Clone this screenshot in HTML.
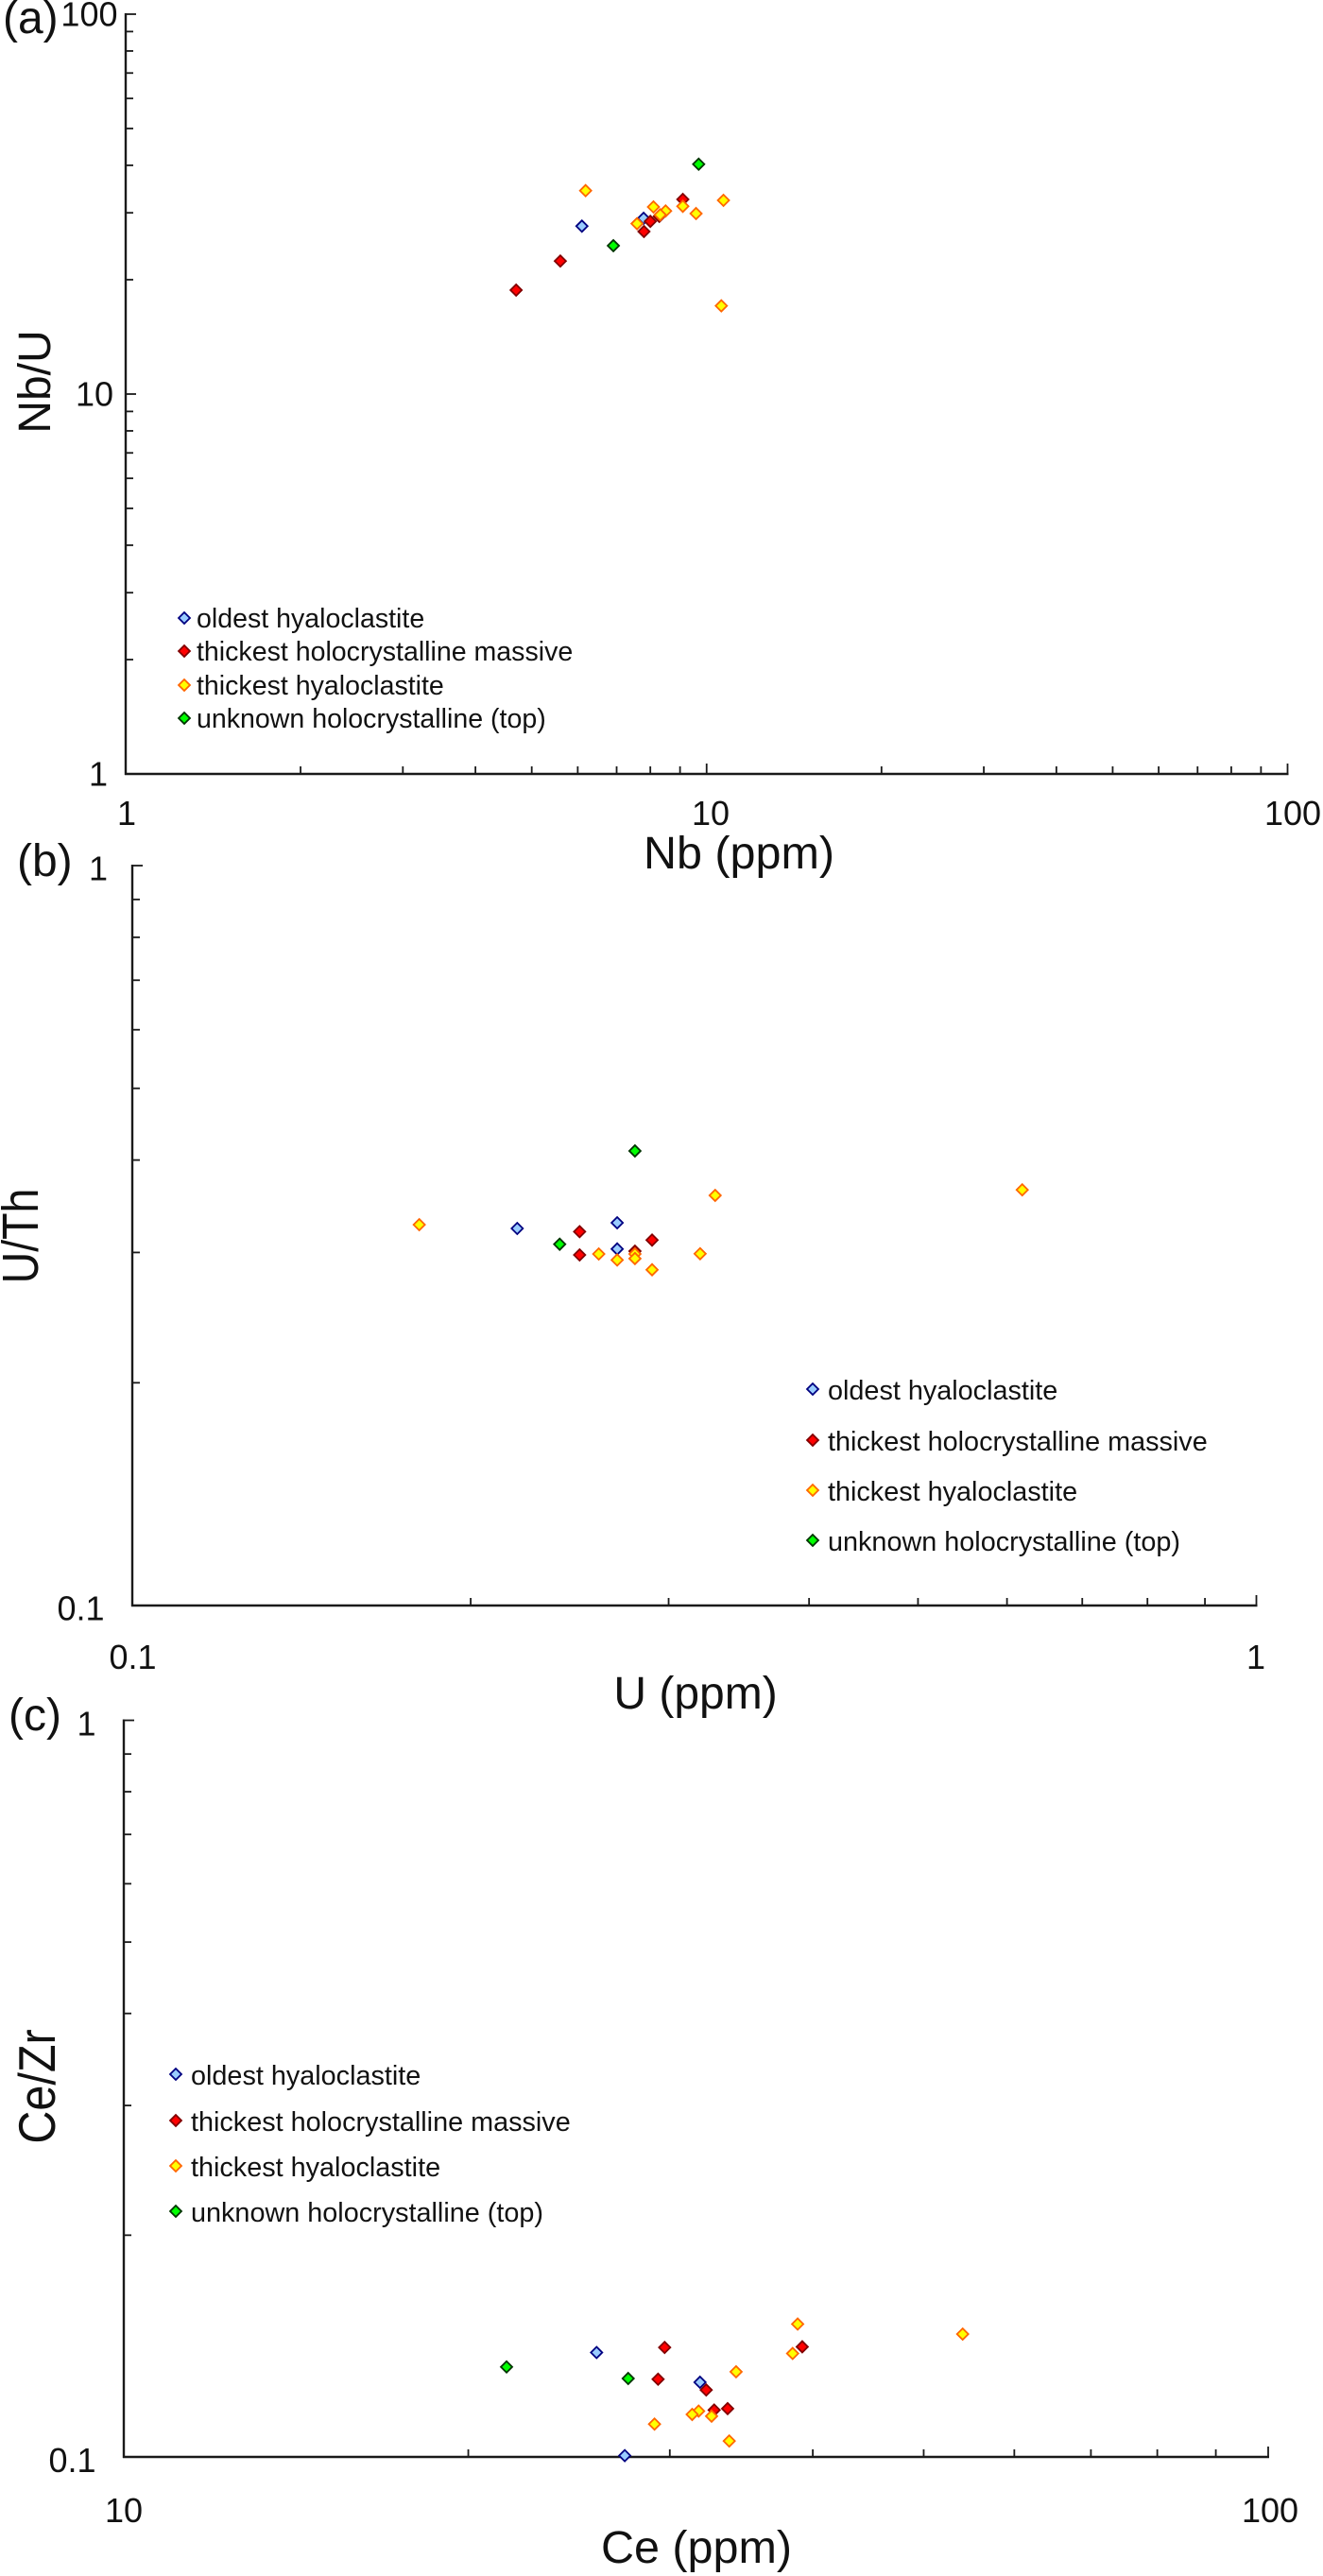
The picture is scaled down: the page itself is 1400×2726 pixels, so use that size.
<!DOCTYPE html>
<html lang="en">
<head>
<meta charset="utf-8">
<title>Trace element ratio plots</title>
<style>
html,body{margin:0;padding:0;background:#fff;}
svg{display:block;}
text{font-family:"Liberation Sans",Arial,sans-serif;fill:#111;}
.tick-label{font-size:36px;}
.axis-title{font-size:48.5px;}
.panel-label{font-size:48px;}
.legend-text{font-size:28.8px;}
#legend-a .legend-text{font-size:28.55px;}
</style>
</head>
<body>
<svg id="figure" xmlns="http://www.w3.org/2000/svg" width="1400" height="2726" viewBox="0 0 1400 2726">
  <rect x="0" y="0" width="1400" height="2726" fill="#fff"/>

  <text class="panel-label" x="3" y="35">(a)</text>
  <text class="panel-label" x="18" y="927">(b)</text>
  <text class="panel-label" x="9" y="1831">(c)</text>

  <text class="axis-title" x="782" y="919" text-anchor="middle">Nb (ppm)</text>
  <text class="axis-title" transform="translate(53 404) rotate(-90)" text-anchor="middle" style="font-size:48px">Nb/U</text>
  <text class="axis-title" x="736" y="1808" text-anchor="middle" style="font-size:48px">U (ppm)</text>
  <text class="axis-title" transform="translate(40 1308) rotate(-90) scale(1 1.15)" text-anchor="middle" style="font-size:46.5px">U/Th</text>
  <text class="axis-title" x="737" y="2712" text-anchor="middle">Ce (ppm)</text>
  <text class="axis-title" transform="translate(58 2208) rotate(-90) scale(1 1.12)" text-anchor="middle">Ce/Zr</text>

  <g id="legend-a">
    <path transform="translate(195 654)" d="M0-6L6 0L0 6L-6 0Z" fill="#99ccff" stroke="#000080" stroke-width="1.8"/>
    <text class="legend-text" x="208" y="664">oldest hyaloclastite</text>
    <path transform="translate(195 689)" d="M0-6L6 0L0 6L-6 0Z" fill="#ff0000" stroke="#800000" stroke-width="1.8"/>
    <text class="legend-text" x="208" y="699">thickest holocrystalline massive</text>
    <path transform="translate(195 725)" d="M0-6L6 0L0 6L-6 0Z" fill="#ffff00" stroke="#ff6600" stroke-width="1.8"/>
    <text class="legend-text" x="208" y="735">thickest hyaloclastite</text>
    <path transform="translate(195 760)" d="M0-6L6 0L0 6L-6 0Z" fill="#00ff00" stroke="#003300" stroke-width="1.8"/>
    <text class="legend-text" x="208" y="770">unknown holocrystalline (top)</text>
  </g>

  <g id="legend-b">
    <path transform="translate(860 1470)" d="M0-6L6 0L0 6L-6 0Z" fill="#99ccff" stroke="#000080" stroke-width="1.8"/>
    <text class="legend-text" x="876" y="1481">oldest hyaloclastite</text>
    <path transform="translate(860 1524)" d="M0-6L6 0L0 6L-6 0Z" fill="#ff0000" stroke="#800000" stroke-width="1.8"/>
    <text class="legend-text" x="876" y="1535">thickest holocrystalline massive</text>
    <path transform="translate(860 1577)" d="M0-6L6 0L0 6L-6 0Z" fill="#ffff00" stroke="#ff6600" stroke-width="1.8"/>
    <text class="legend-text" x="876" y="1588">thickest hyaloclastite</text>
    <path transform="translate(860 1630)" d="M0-6L6 0L0 6L-6 0Z" fill="#00ff00" stroke="#003300" stroke-width="1.8"/>
    <text class="legend-text" x="876" y="1641">unknown holocrystalline (top)</text>
  </g>

  <g id="legend-c">
    <path transform="translate(186 2195)" d="M0-6L6 0L0 6L-6 0Z" fill="#99ccff" stroke="#000080" stroke-width="1.8"/>
    <text class="legend-text" x="202" y="2206">oldest hyaloclastite</text>
    <path transform="translate(186 2244)" d="M0-6L6 0L0 6L-6 0Z" fill="#ff0000" stroke="#800000" stroke-width="1.8"/>
    <text class="legend-text" x="202" y="2255">thickest holocrystalline massive</text>
    <path transform="translate(186 2292)" d="M0-6L6 0L0 6L-6 0Z" fill="#ffff00" stroke="#ff6600" stroke-width="1.8"/>
    <text class="legend-text" x="202" y="2303">thickest hyaloclastite</text>
    <path transform="translate(186 2340)" d="M0-6L6 0L0 6L-6 0Z" fill="#00ff00" stroke="#003300" stroke-width="1.8"/>
    <text class="legend-text" x="202" y="2351">unknown holocrystalline (top)</text>
  </g>
</svg>

<script>
// ---- Panel (a): Nb vs Nb/U ----
var aOldestNb = [6.10, 7.79];
var aOldestRatio = [27.67, 29.02];
var aMassiveNb = [4.70, 5.60, 7.80, 8.00, 8.29, 9.10];
var aMassiveRatio = [18.78, 22.39, 26.78, 28.48, 29.35, 32.54];
var aThickestNb = [6.19, 8.10, 8.50, 7.59, 8.32, 9.10, 9.59, 10.69, 10.60];
var aThickestRatio = [34.32, 31.09, 30.33, 28.09, 29.64, 31.21, 29.87, 32.36, 17.07];
var aUnknownNb = [9.69, 6.91];
var aUnknownRatio = [40.29, 24.58];
var aXTickLabels = ["1", "10", "100"];
var aYTickLabels = ["1", "10", "100"];

// ---- Panel (b): U vs U/Th ----
var bOldestU = [0.220, 0.270, 0.270];
var bOldestRatio = [0.3233, 0.3290, 0.3033];
var bMassiveU = [0.250, 0.250, 0.290, 0.280];
var bMassiveRatio = [0.3201, 0.2977, 0.3118, 0.3012];
var bThickestU = [0.180, 0.330, 0.619, 0.260, 0.270, 0.280, 0.280, 0.290, 0.320];
var bThickestRatio = [0.3271, 0.3583, 0.3646, 0.2986, 0.2931, 0.2986, 0.2944, 0.2843, 0.2988];
var bUnknownU = [0.280, 0.240];
var bUnknownRatio = [0.4115, 0.3078];
var bXTickLabels = ["0.1", "1"];
var bYTickLabels = ["0.1", "1"];

// ---- Panel (c): Ce vs Ce/Zr ----
var cOldestCe = [25.89, 31.88, 27.40];
var cOldestRatio = [0.1386, 0.1263, 0.1004];
var cMassiveCe = [29.69, 29.30, 32.28, 32.80, 33.70, 39.16];
var cMassiveRatio = [0.1408, 0.1275, 0.1233, 0.1158, 0.1163, 0.1411];
var cThickestCe = [38.80, 38.41, 34.28, 31.79, 31.38, 32.63, 33.81, 29.09, 54.08];
var cThickestRatio = [0.1515, 0.1382, 0.1305, 0.1154, 0.1142, 0.1136, 0.1051, 0.1108, 0.1468];
var cUnknownCe = [21.60, 27.59];
var cUnknownRatio = [0.1325, 0.1278];
var cXTickLabels = ["10", "100"];
var cYTickLabels = ["0.1", "1"];

var svgNS = "http://www.w3.org/2000/svg";
var figure = document.getElementById("figure");
var axisColor = "#1a1a1a";
var seriesStyles = {
  oldest: {fill: "#99ccff", stroke: "#000080"},
  massive: {fill: "#ff0000", stroke: "#800000"},
  thickest: {fill: "#ffff00", stroke: "#ff6600"},
  unknown: {fill: "#00ff00", stroke: "#003300"}
};

function logScale(domainMin, domainMax, pixelMin, pixelMax) {
  var lo = Math.log10(domainMin), hi = Math.log10(domainMax);
  return function (value) {
    return pixelMin + (Math.log10(value) - lo) / (hi - lo) * (pixelMax - pixelMin);
  };
}

function drawLine(group, x1, y1, x2, y2, width, name) {
  var el = document.createElementNS(svgNS, "line");
  el.setAttribute("x1", x1);
  el.setAttribute("y1", y1);
  el.setAttribute("x2", x2);
  el.setAttribute("y2", y2);
  el.setAttribute("stroke", axisColor);
  el.setAttribute("stroke-width", width);
  
  
  group.appendChild(el);
}

function drawLabel(group, x, y, anchor, label, name) {
  var el = document.createElementNS(svgNS, "text");
  el.setAttribute("class", "tick-label");
  el.setAttribute("x", x);
  el.setAttribute("y", y);
  el.setAttribute("text-anchor", anchor);
  el.textContent = label;
  
  
  group.appendChild(el);
}

function drawSeries(group, xValues, yValues, xScale, yScale, styleKey, prefix) {
  var style = seriesStyles[styleKey];
  for (var i = 0; i < xValues.length; i++) {
    var marker = document.createElementNS(svgNS, "path");
    marker.setAttribute("d", "M0-6L6 0L0 6L-6 0Z");
    marker.setAttribute("transform", "translate(" + xScale(xValues[i]) + " " + yScale(yValues[i]) + ")");
    marker.setAttribute("fill", style.fill);
    marker.setAttribute("stroke", style.stroke);
    marker.setAttribute("stroke-width", "1.8");
    
    
    group.appendChild(marker);
  }
}

function drawAxes(group, prefix, box, xDomain, yDomain, xLabels, yLabels, opts) {
  var xScale = logScale(xDomain[0], xDomain[1], box.left, box.right);
  var yScale = logScale(yDomain[0], yDomain[1], box.bottom, box.top);
  drawLine(group, box.left, box.top - 1, box.left, box.bottom + 1, 2.4, prefix + "-y-axis-line");
  drawLine(group, box.left - 1, box.bottom, box.right + 1, box.bottom, 2.6, prefix + "-x-axis-line");

  var decade, m, value;
  for (decade = xDomain[0]; decade < xDomain[1] - 1e-9; decade *= 10) {
    for (m = 2; m <= 9; m++) {
      value = decade * m;
      drawLine(group, xScale(value), box.bottom, xScale(value), box.bottom - 8, 1.8, prefix + "-x-minor-tick");
    }
  }
  for (decade = yDomain[0]; decade < yDomain[1] - 1e-9; decade *= 10) {
    for (m = 2; m <= 9; m++) {
      value = decade * m;
      drawLine(group, box.left, yScale(value), box.left + 8, yScale(value), 1.8, prefix + "-y-minor-tick");
    }
  }
  xLabels.forEach(function (label) {
    var v = parseFloat(label);
    if (v !== xDomain[0]) {
      drawLine(group, xScale(v), box.bottom, xScale(v), box.bottom - 11, 1.8, prefix + "-x-major-tick");
    }
    drawLabel(group, opts.xLabelCenter[label], opts.xLabelBaseline, "middle", label, prefix + "-x-tick-label");
  });
  yLabels.forEach(function (label) {
    var v = parseFloat(label);
    if (v !== yDomain[0]) {
      drawLine(group, box.left, yScale(v), box.left + 11, yScale(v), 1.8, prefix + "-y-major-tick");
    }
    drawLabel(group, opts.yLabelEnd[label], yScale(v) + opts.yLabelDrop, "end", label, prefix + "-y-tick-label");
  });
  return {x: xScale, y: yScale};
}

function makePanel(name) {
  var g = document.createElementNS(svgNS, "g");
  
  
  figure.appendChild(g);
  return g;
}

// Panel (a)
var panelA = makePanel("panel-a-chart");
var scalesA = drawAxes(panelA, "panel-a",
  {left: 133, right: 1362.5, top: 15, bottom: 819},
  [1, 100], [1, 100], aXTickLabels, aYTickLabels,
  {xLabelCenter: {"1": 134, "10": 752, "100": 1368}, xLabelBaseline: 873, yLabelDrop: 12.7, yLabelEnd: {"100": 124.5, "10": 120, "1": 114}});
drawSeries(panelA, aOldestNb, aOldestRatio, scalesA.x, scalesA.y, "oldest", "panel-a");
drawSeries(panelA, aMassiveNb, aMassiveRatio, scalesA.x, scalesA.y, "massive", "panel-a");
drawSeries(panelA, aThickestNb, aThickestRatio, scalesA.x, scalesA.y, "thickest", "panel-a");
drawSeries(panelA, aUnknownNb, aUnknownRatio, scalesA.x, scalesA.y, "unknown", "panel-a");

// Panel (b)
var panelB = makePanel("panel-b-chart");
var scalesB = drawAxes(panelB, "panel-b",
  {left: 140, right: 1329.5, top: 916, bottom: 1699},
  [0.1, 1], [0.1, 1], bXTickLabels, bYTickLabels,
  {xLabelCenter: {"0.1": 140.5, "1": 1329}, xLabelBaseline: 1766, yLabelDrop: 15.4, yLabelEnd: {"1": 114, "0.1": 110.5}});
drawSeries(panelB, bOldestU, bOldestRatio, scalesB.x, scalesB.y, "oldest", "panel-b");
drawSeries(panelB, bMassiveU, bMassiveRatio, scalesB.x, scalesB.y, "massive", "panel-b");
drawSeries(panelB, bThickestU, bThickestRatio, scalesB.x, scalesB.y, "thickest", "panel-b");
drawSeries(panelB, bUnknownU, bUnknownRatio, scalesB.x, scalesB.y, "unknown", "panel-b");

// Panel (c)
var panelC = makePanel("panel-c-chart");
var scalesC = drawAxes(panelC, "panel-c",
  {left: 131, right: 1342, top: 1820.5, bottom: 2600},
  [10, 100], [0.1, 1], cXTickLabels, cYTickLabels,
  {xLabelCenter: {"10": 131, "100": 1344}, xLabelBaseline: 2669, yLabelDrop: 16, yLabelEnd: {"1": 101.5, "0.1": 101.5}});
drawSeries(panelC, cOldestCe, cOldestRatio, scalesC.x, scalesC.y, "oldest", "panel-c");
drawSeries(panelC, cMassiveCe, cMassiveRatio, scalesC.x, scalesC.y, "massive", "panel-c");
drawSeries(panelC, cThickestCe, cThickestRatio, scalesC.x, scalesC.y, "thickest", "panel-c");
drawSeries(panelC, cUnknownCe, cUnknownRatio, scalesC.x, scalesC.y, "unknown", "panel-c");
</script>
</body>
</html>
